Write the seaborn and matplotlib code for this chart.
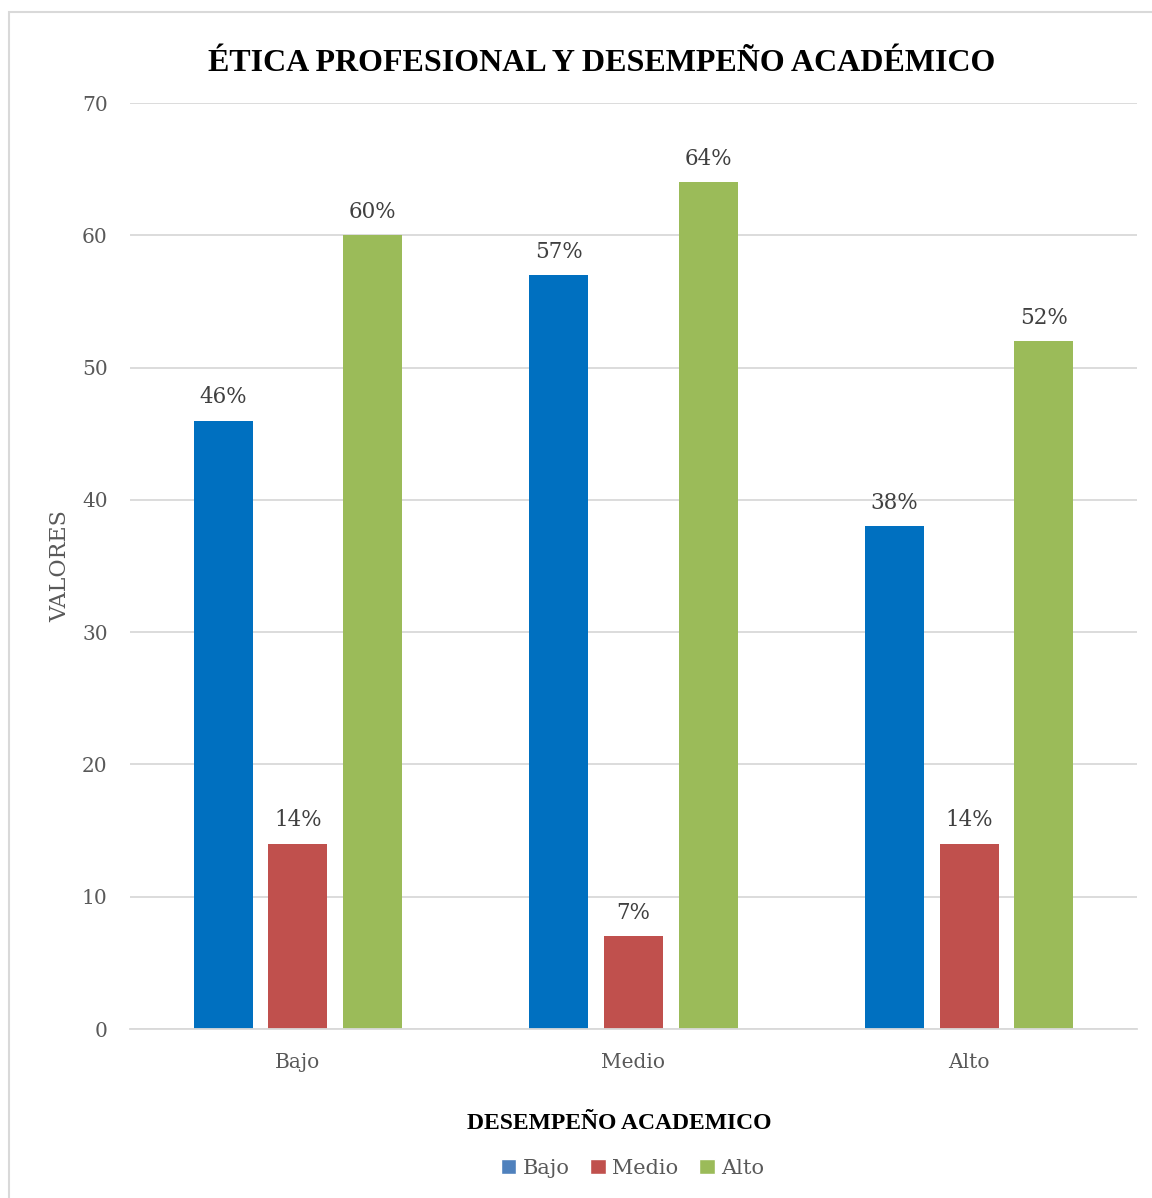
import pandas as pd
import matplotlib
matplotlib.use('Agg')
import matplotlib.pyplot as plt
import seaborn as sns
from matplotlib.patches import Patch, Rectangle

# datos del grafico
categorias = ['Bajo', 'Medio', 'Alto']
series = ['Bajo', 'Medio', 'Alto']
valores_bajo = [46, 57, 38]
valores_medio = [14, 7, 14]
valores_alto = [60, 64, 52]
yticks = [0, 10, 20, 30, 40, 50, 60, 70]

bar_colors = ['#0070C0', '#C0504D', '#9BBB59']
legend_colors = ['#4F81BD', '#C0504D', '#9BBB59']

df = pd.DataFrame({
    'Desempeno': categorias * 3,
    'Serie': [s for s in series for _ in categorias],
    'Valor': valores_bajo + valores_medio + valores_alto,
})

sns.set_theme(style='white')
serif_num = 'DejaVu Serif'
times = 'Liberation Serif'
gray = '#595959'

fig = plt.figure(figsize=(11.52, 11.98), dpi=100)
ax = fig.add_axes([0.1128, 0.141, 0.8742, 0.773])

sns.barplot(data=df, x='Desempeno', y='Valor', hue='Serie', order=categorias,
            hue_order=series, palette=bar_colors, width=0.667, gap=0.21,
            saturation=1, legend=False, linewidth=0, edgecolor='none', ax=ax)

ax.set_ylim(0, 70)
ax.set_xlim(-0.5, 2.5)
ax.set_yticks(yticks)
ax.yaxis.grid(True, color='#D9D9D9', linewidth=1.3)
ax.set_axisbelow(True)
for side in ['top', 'right', 'left']:
    ax.spines[side].set_visible(False)
ax.spines['bottom'].set_color('#D9D9D9')
ax.spines['bottom'].set_linewidth(1.3)
ax.tick_params(axis='both', length=0, labelsize=14.5, labelcolor=gray)
ax.tick_params(axis='x', pad=17)
ax.tick_params(axis='y', pad=16)
for lab in ax.get_xticklabels() + ax.get_yticklabels():
    lab.set_fontfamily(serif_num)

for cont in ax.containers:
    ax.bar_label(cont, labels=[f'{int(v)}%' for v in cont.datavalues],
                 padding=9, fontsize=15.5, color='#404040', family=serif_num)

ax.set_ylabel('VALORES', fontsize=16, color=gray, family=serif_num, labelpad=8)
ax.set_xlabel('DESEMPEÑO ACADEMICO', fontsize=17, fontweight='bold',
              color='black', family=times)
ax.xaxis.set_label_coords(0.486, -0.091)
fig.text(0.522, 0.947, 'ÉTICA PROFESIONAL Y DESEMPEÑO ACADÉMICO', ha='center',
         va='center', fontsize=23, fontweight='bold', family=times, color='black')

handles = [Patch(facecolor=c, label=s) for c, s in zip(legend_colors, series)]
fig.legend(handles=handles, loc='center', bbox_to_anchor=(0.549, 0.025), ncol=3,
           frameon=False, prop={'family': serif_num, 'size': 15},
           labelcolor=gray, handlelength=0.75, handleheight=0.75,
           handletextpad=0.3, columnspacing=1.0)

fig.patches.append(Rectangle((0.0078, -0.05), 1.1, 1.04, transform=fig.transFigure,
                             fill=False, edgecolor='#D9D9D9', linewidth=1.5))

fig.savefig('out.png', dpi=100)
